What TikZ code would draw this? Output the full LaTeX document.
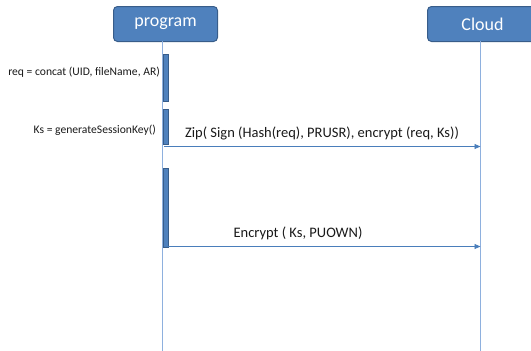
\documentclass[tikz,border=0pt]{standalone}
\usepackage{fontspec}
\setmainfont{Carlito}
\usetikzlibrary{arrows.meta}
\definecolor{boxfill}{HTML}{4F81BD}
\definecolor{boxline}{HTML}{385D8A}
\definecolor{lifeline}{HTML}{8EB0DE}
\definecolor{msgline}{HTML}{4A7EBB}
\tikzset{
  actor/.style={draw=boxline, line width=1pt, fill=boxfill, rounded corners=4pt,
    text=white, font=\fontsize{18}{20}\selectfont, inner sep=0pt, anchor=north west},
  activation/.style={draw=boxline, line width=0.8pt, fill=boxfill},
  life/.style={draw=lifeline, line width=1pt},
  msg/.style={draw=msgline, line width=0.8pt, -{Triangle[length=6pt,width=5pt]}},
  msglabel/.style={font=\fontsize{14.5}{16}\selectfont, text=black!90, inner sep=0pt},
  note/.style={font=\fontsize{11.6}{13}\selectfont, text=black!90, inner sep=0pt, anchor=east}
}
\begin{document}
\begin{tikzpicture}[x=1pt, y=-1pt]
  \useasboundingbox (0,0) rectangle (531,351);
  % participants
  \node[actor, minimum width=104pt, minimum height=35pt] (prog) at (113,6) {program};
  \node[actor, minimum width=110pt, minimum height=35pt] (cloud) at (427,6) {Cloud};
  % lifelines
  \coordinate (progtop) at (162.5,41);
  \coordinate (progend) at (162.5,351);
  \coordinate (cloudtop) at (480.5,41);
  \coordinate (cloudend) at (480.5,351);
  \draw[life] (progtop) -- (progend);
  \draw[life] (cloudtop) -- (cloudend);
  % activation bars
  \node[activation, minimum width=5pt, minimum height=47pt, inner sep=0pt, anchor=north west] (act1) at (162.5,54) {};
  \node[activation, minimum width=5pt, minimum height=35pt, inner sep=0pt, anchor=north west] (act2) at (162.5,109) {};
  \node[activation, minimum width=5pt, minimum height=79pt, inner sep=0pt, anchor=north west] (act3) at (162.5,168) {};
  % local steps
  \node[note] (n1) at (160,72) {req = concat (UID, fileName, AR)};
  \node[note] (n2) at (156,130) {Ks = generateSessionKey()};
  % messages
  \coordinate (m1s) at (164,146.5);
  \coordinate (m1e) at (480.5,146.5);
  \draw[msg] (m1s) -- (m1e);
  \node[msglabel] (l1) at (322,133) {Zip( Sign (Hash(req), PRUSR), encrypt (req, Ks))};
  \coordinate (m2s) at (164,246.5);
  \coordinate (m2e) at (480.5,246.5);
  \draw[msg] (m2s) -- (m2e);
  \node[msglabel] (l2) at (298,233) {Encrypt ( Ks, PUOWN)};
\end{tikzpicture}
\end{document}
